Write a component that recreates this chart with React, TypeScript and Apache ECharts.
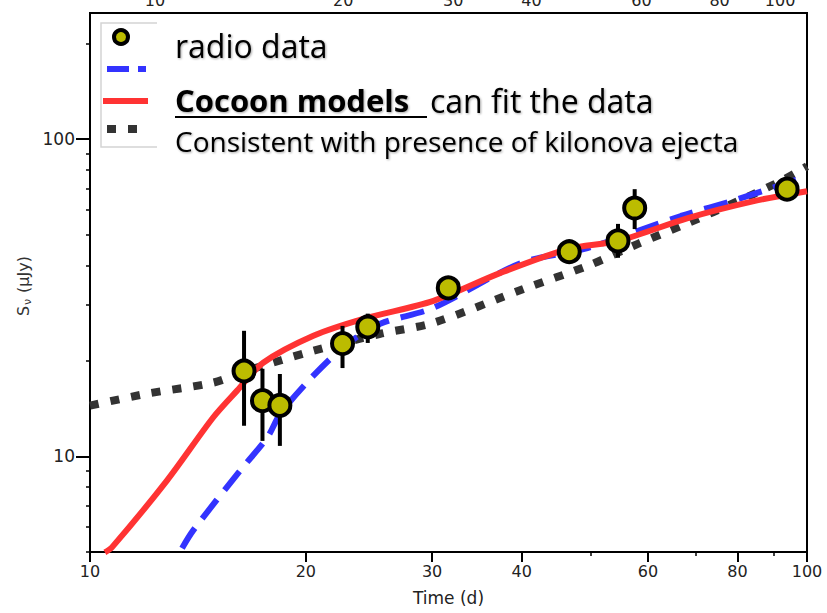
import React, { useEffect, useRef } from 'react';
import * as echarts from 'echarts';

// ---- tick values ----
const xTickValues = [10, 20, 30, 40, 60, 80, 100];
const xMinorTickValues = [50, 70, 90];
const yTickValues = [10, 100];
const yMinorTickValues = [5, 6, 7, 8, 9, 20, 30, 40, 50, 60, 70, 80, 90, 200];

// ---- radio data ----
const radioTime = [16.4, 17.4, 18.4, 22.5, 24.4, 31.6, 46.6, 54.5, 57.5, 93.8];
const radioFlux = [18.6, 15.0, 14.5, 22.7, 25.6, 34.0, 44.2, 47.8, 60.7, 69.6];
const radioLow = [12.5, 11.2, 10.8, 19.0, 22.8, 31.5, 42.2, 42.3, 52.1, 66.5];
const radioHigh = [24.9, 18.9, 18.2, 25.8, 28.2, 36.7, 46.3, 54.1, 69.6, 72.8];

// ---- cocoon model (red, solid) ----
const redTime = [10.49, 10.73, 12.81, 14.85, 16.04, 17.44, 20.49, 24.06, 30.13, 37.37, 46.5, 54.5, 68.2, 84.3, 100];
const redFlux = [4.99, 5.17, 8.41, 13.27, 16.13, 19.75, 24.02, 27.16, 30.95, 37.9, 45.1, 47.8, 56.4, 63.8, 68.6];

// ---- cocoon model (blue, dashed) ----
const blueTime = [13.44, 13.93, 16.2, 17.67, 18.43, 20.49, 22.86, 25.4, 30.13, 39.9, 49.4, 66.7, 80.1, 100];
const blueFlux = [5.14, 5.85, 9.04, 11.47, 13.65, 17.98, 22.66, 26.19, 29.42, 40.7, 45.4, 57.3, 64.7, 76.5];

// ---- kilonova ejecta model (dark, dotted) ----
const blackTime = [10, 12.01, 14.85, 16.57, 20.49, 25.4, 30.13, 40.25, 49.4, 58.1, 68.2, 80.1, 91.9, 100];
const blackFlux = [14.47, 15.78, 17.09, 18.64, 21.54, 24.37, 26.39, 33.76, 39.87, 46.8, 54.4, 63.8, 73.8, 82.2];

const pairs = (xs: number[], ys: number[]) => xs.map((x, i) => [x, ys[i]]);

const AX_FONT = 'DejaVu Sans';
const SLIDE_FONT = 'Open Sans';
const SHADOW = {
  textShadowColor: 'rgba(0,0,0,0.35)',
  textShadowBlur: 2,
  textShadowOffsetX: 1,
  textShadowOffsetY: 1,
};

export default function App() {
  const ref = useRef<HTMLDivElement>(null);
  useEffect(() => {
    if (!ref.current) return;
    const chart = echarts.init(ref.current, undefined, { renderer: 'svg' });
    const option: any = {
      animation: false,
      backgroundColor: '#fff',
      grid: {
        left: 90,
        right: 20,
        top: 13,
        bottom: 61,
        show: true,
        borderColor: '#000',
        borderWidth: 2,
        containLabel: false,
        outerBoundsMode: 'none',
      },
      xAxis: [
        {
          type: 'log',
          logBase: 10,
          min: 10,
          max: 100,
          position: 'bottom',
          name: 'Time (d)',
          nameLocation: 'middle',
          nameGap: 37,
          nameTextStyle: { fontFamily: AX_FONT, fontSize: 17, color: '#222' },
          axisLine: { show: true, lineStyle: { color: '#000', width: 2 } },
          axisTick: { show: true, inside: false, length: 10, customValues: xTickValues, lineStyle: { color: '#000', width: 2 } },
          axisLabel: { show: true, customValues: xTickValues, margin: 11, fontFamily: AX_FONT, fontSize: 16, color: '#222' },
          splitLine: { show: false },
        },
        {
          type: 'log',
          logBase: 10,
          min: 7.87,
          max: 110.4,
          position: 'top',
          axisLine: { show: false },
          axisTick: { show: false },
          axisLabel: { show: true, customValues: xTickValues, margin: 5, fontFamily: AX_FONT, fontSize: 16, color: '#222' },
          splitLine: { show: false },
        },
        {
          type: 'log',
          logBase: 10,
          min: 10,
          max: 100,
          position: 'bottom',
          axisLine: { show: false },
          axisTick: { show: true, inside: false, length: 4, customValues: xMinorTickValues, lineStyle: { color: '#000', width: 1.5 } },
          axisLabel: { show: false },
          splitLine: { show: false },
        },
      ],
      yAxis: [
        {
          type: 'log',
          logBase: 10,
          min: 5,
          max: 250,
          position: 'left',
          axisLine: { show: true, lineStyle: { color: '#000', width: 2 } },
          axisTick: { show: true, inside: false, length: 14, customValues: yTickValues, lineStyle: { color: '#000', width: 2 } },
          axisLabel: { show: true, customValues: yTickValues, margin: 15, fontFamily: AX_FONT, fontSize: 17, color: '#222' },
          splitLine: { show: false },
        },
        {
          type: 'log',
          logBase: 10,
          min: 5,
          max: 250,
          position: 'left',
          axisLine: { show: false },
          axisTick: { show: true, inside: false, length: 4, customValues: yMinorTickValues, lineStyle: { color: '#000', width: 1.5 } },
          axisLabel: { show: false },
          splitLine: { show: false },
        },
      ],
      series: [
        {
          name: 'kilonova',
          type: 'line',
          data: pairs(blackTime, blackFlux),
          showSymbol: false,
          smooth: 0.3,
          lineStyle: { color: '#333333', width: 8, type: [9, 12], cap: 'butt' },
          z: 2,
        },
        {
          name: 'cocoon blue',
          type: 'line',
          data: pairs(blueTime, blueFlux),
          showSymbol: false,
          smooth: 0.3,
          lineStyle: { color: '#3333ff', width: 6, type: [24, 12], cap: 'butt' },
          z: 3,
        },
        {
          name: 'cocoon red',
          type: 'line',
          data: pairs(redTime, redFlux),
          showSymbol: false,
          smooth: 0.3,
          lineStyle: { color: '#ff3333', width: 6 },
          z: 4,
        },
        {
          name: 'errors',
          type: 'custom',
          data: radioTime.map((t, i) => [t, radioLow[i], radioHigh[i]]),
          renderItem: (params: any, api: any) => {
            const lo = api.coord([api.value(0), api.value(1)]);
            const hi = api.coord([api.value(0), api.value(2)]);
            return {
              type: 'line',
              shape: { x1: lo[0], y1: lo[1], x2: hi[0], y2: hi[1] },
              style: { stroke: '#000', lineWidth: 4 },
            };
          },
          z: 5,
        },
        {
          name: 'radio data',
          type: 'scatter',
          data: pairs(radioTime, radioFlux),
          symbol: 'circle',
          symbolSize: 21,
          itemStyle: { color: '#bcbc00', borderColor: '#000', borderWidth: 4, opacity: 1 },
          z: 6,
        },
      ],
      graphic: [
        {
          type: 'group',
          x: 23,
          y: 283,
          rotation: Math.PI / 2,
          z: 10,
          children: [
            {
              type: 'text',
              x: -33,
              y: 0,
              style: { text: 'S', fontFamily: AX_FONT, fontSize: 16, fill: '#333', verticalAlign: 'middle', align: 'left' },
            },
            {
              type: 'text',
              x: -22,
              y: 4,
              style: { text: 'ν', fontFamily: AX_FONT, fontSize: 11, fill: '#333', verticalAlign: 'middle', align: 'left' },
            },
            {
              type: 'text',
              x: -15,
              y: 0,
              style: { text: ' (μJy)', fontFamily: AX_FONT, fontSize: 16, fill: '#333', verticalAlign: 'middle', align: 'left' },
            },
          ],
        },
        {
          type: 'polyline',
          shape: { points: [[157, 23], [101, 23], [101, 147], [157, 147]] },
          style: { stroke: '#d4d4d4', lineWidth: 1.5, fill: null },
          z: 10,
        },
        {
          type: 'circle',
          shape: { cx: 121, cy: 37, r: 7 },
          style: { fill: '#bcbc00', stroke: '#000', lineWidth: 4 },
          z: 11,
        },
        {
          type: 'line',
          shape: { x1: 107, y1: 69, x2: 146, y2: 69 },
          style: { stroke: '#3333ff', lineWidth: 6, lineDash: [22, 9] },
          z: 11,
        },
        {
          type: 'line',
          shape: { x1: 103, y1: 101, x2: 148, y2: 101 },
          style: { stroke: '#ff3333', lineWidth: 6 },
          z: 11,
        },
        {
          type: 'line',
          shape: { x1: 107, y1: 129, x2: 137, y2: 129 },
          style: { stroke: '#333333', lineWidth: 8, lineDash: [9, 12] },
          z: 11,
        },
        {
          type: 'text',
          x: 175,
          y: 45,
          style: {
            text: 'radio data',
            fontFamily: SLIDE_FONT,
            fontSize: 32,
            fill: '#000',
            verticalAlign: 'middle',
            ...SHADOW,
          },
          z: 12,
        },
        {
          type: 'text',
          x: 175,
          y: 100,
          style: {
            text: 'Cocoon models',
            fontFamily: SLIDE_FONT,
            fontSize: 31,
            fontWeight: 'bold',
            fill: '#000',
            verticalAlign: 'middle',
            ...SHADOW,
          },
          z: 12,
        },
        {
          type: 'text',
          x: 430,
          y: 100,
          style: {
            text: 'can fit the data',
            fontFamily: SLIDE_FONT,
            fontSize: 32,
            fill: '#000',
            verticalAlign: 'middle',
            ...SHADOW,
          },
          z: 12,
        },
        {
          type: 'line',
          shape: { x1: 175, y1: 117, x2: 427, y2: 117 },
          style: { stroke: '#000', lineWidth: 2 },
          z: 12,
        },
        {
          type: 'text',
          x: 175,
          y: 141,
          style: {
            text: 'Consistent with presence of kilonova ejecta',
            fontFamily: SLIDE_FONT,
            fontSize: 28,
            fill: '#000',
            verticalAlign: 'middle',
            ...SHADOW,
          },
          z: 12,
        },
      ],
    };
    chart.setOption(option);
    return () => chart.dispose();
  }, []);
  return (
    <div
      ref={ref}
      style={{ position: 'absolute', left: 0, top: 0, width: 827, height: 613, background: '#fff' }}
    />
  );
}
